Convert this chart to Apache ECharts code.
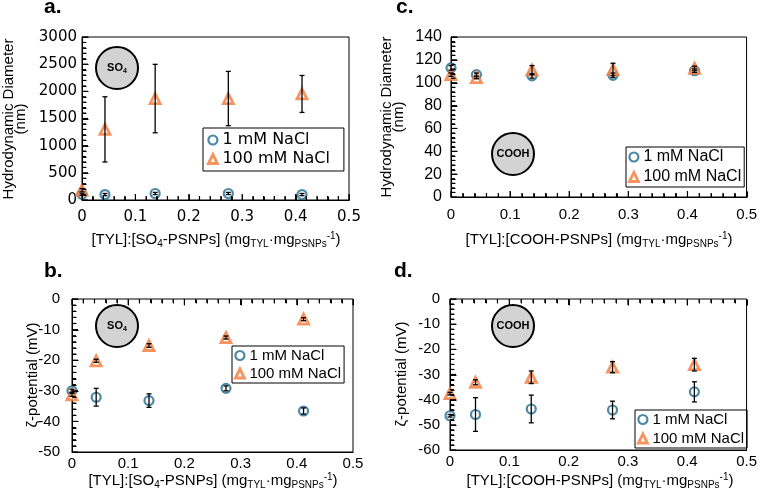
<!DOCTYPE html>
<html>
<head>
<meta charset="utf-8">
<script src="https://cdn.jsdelivr.net/npm/echarts@6/dist/echarts.min.js"></script>
<style>
  html, body { margin: 0; background: #fff; }
  #chart { width: 760px; height: 496px; }
</style>
</head>
<body>
<div id="chart"></div>
<script>
// TYL : PSNPs mass ratio (x)
const ratio = [0, 0.043, 0.137, 0.274, 0.412];
const xTicks = [0, 0.1, 0.2, 0.3, 0.4, 0.5];

// a. SO4-PSNPs hydrodynamic diameter (nm)
const so4Size1 = [105, 100, 120, 120, 100];
const so4Size1Err = [20, 20, 20, 20, 20];
const so4Size100 = [180, 1300, 1867, 1867, 1952];
const so4Size100Err = [30, 600, 630, 500, 340];
const so4SizeTicks = [0, 500, 1000, 1500, 2000, 2500, 3000];

// c. COOH-PSNPs hydrodynamic diameter (nm)
const coohSize1 = [113, 107, 106, 106.5, 110.5];
const coohSize1Err = [2, 1.5, 2, 2, 1.5];
const coohSize100 = [107, 104.5, 111, 111.5, 112.5];
const coohSize100Err = [1.5, 1, 4, 5.5, 2];
const coohSizeTicks = [0, 20, 40, 60, 80, 100, 120, 140];

// b. SO4-PSNPs zeta potential (mV)
const so4Zeta1 = [-30, -32.1, -33.2, -29.2, -36.6];
const so4Zeta1Err = [0.5, 2.9, 2.2, 0.8, 1];
const so4Zeta100 = [-31.3, -20.2, -15.2, -12.6, -6.6];
const so4Zeta100Err = [0.5, 0.5, 0.6, 0.5, 0.5];
const so4ZetaTicks = [-50, -40, -30, -20, -10, 0];

// d. COOH-PSNPs zeta potential (mV)
const coohZeta1 = [-46.4, -45.9, -43.7, -44.1, -36.9];
const coohZeta1Err = [0.5, 6.7, 5.5, 3.5, 4];
const coohZeta100 = [-37.6, -33.1, -31.1, -27.1, -26.1];
const coohZeta100Err = [0.5, 1, 2.5, 2.2, 2.5];
const coohZetaTicks = [-60, -50, -40, -30, -20, -10, 0];

const seriesNames = ['1 mM NaCl', '100 mM NaCl'];

const FONT = 'Liberation Sans, Arial, sans-serif';
const WIDE = 'DejaVu Sans, Verdana, sans-serif';
const BLUE = '#1f6b8e';
const ORANGE = '#f2783a';

const chart = echarts.init(document.getElementById('chart'));

const grids = [
  {left: 82, top: 37, width: 267, height: 163},   // a
  {left: 451, top: 37, width: 296, height: 160},  // c
  {left: 72, top: 299, width: 281, height: 153},  // b
  {left: 450, top: 299, width: 300, height: 151}  // d
].map(g => Object.assign(g, {show: true, borderColor: '#000', borderWidth: 1}));

function step(t) { return t[1] - t[0]; }
function first(t) { return t[0]; }
function last(t) { return t[t.length - 1]; }

function xAxis(gi, margin, font) {
  return {
    type: 'value', gridIndex: gi, position: 'bottom',
    min: first(xTicks), max: last(xTicks), interval: step(xTicks),
    axisLine: {show: true, onZero: false, lineStyle: {color: '#000', width: 1}},
    axisTick: {show: false},
    splitLine: {show: false},
    axisLabel: {margin: margin, color: '#000', fontSize: 15, fontFamily: font, formatter: v => String(v)}
  };
}
function yAxis(gi, ticks, margin, font, size) {
  return {
    type: 'value', gridIndex: gi, position: 'left',
    min: first(ticks), max: last(ticks), interval: step(ticks),
    axisLine: {show: true, onZero: false, lineStyle: {color: '#000', width: 1}},
    axisTick: {show: false},
    splitLine: {show: false},
    axisLabel: {margin: margin, color: '#000', fontSize: size, fontFamily: font, formatter: v => String(v)}
  };
}

// major ticks plus 4 minor ticks in each interval: [value, isMajor]
function tickValues(ticks) {
  const out = [];
  ticks.forEach((t, i) => {
    out.push([t, 1]);
    if (i < ticks.length - 1) {
      const d = (ticks[i + 1] - t) / 5;
      for (let k = 1; k < 5; k++) out.push([t + k * d, 0]);
    }
  });
  return out;
}

// tick definitions per panel: which axis, which edge value, which direction
const tickSets = [
  {gi: 0, along: 'x', ticks: xTicks, edge: first(so4SizeTicks), dir: -1},
  {gi: 1, along: 'x', ticks: xTicks, edge: first(coohSizeTicks), dir: -1},
  {gi: 2, along: 'x', ticks: xTicks, edge: last(so4ZetaTicks), dir: 1},
  {gi: 3, along: 'x', ticks: xTicks, edge: last(coohZetaTicks), dir: 1},
  {gi: 0, along: 'y', ticks: so4SizeTicks, edge: first(xTicks), dir: 1},
  {gi: 1, along: 'y', ticks: coohSizeTicks, edge: first(xTicks), dir: 1},
  {gi: 2, along: 'y', ticks: so4ZetaTicks, edge: first(xTicks), dir: 1},
  {gi: 3, along: 'y', ticks: coohZetaTicks, edge: first(xTicks), dir: 1}
];

function tickData(s) {
  return tickValues(s.ticks).map(([v, major]) =>
    s.along === 'x' ? [v, s.edge, major] : [s.edge, v, major]);
}

// inward-pointing ticks, placed through the axes' own scales
function tickSeries(s) {
  return {
    type: 'custom', xAxisIndex: s.gi, yAxisIndex: s.gi, z: 5, clip: false,
    encode: {x: 0, y: 1},
    data: tickData(s),
    renderItem: function (params, api) {
      const p = api.coord([api.value(0), api.value(1)]);
      const len = api.value(2) ? 6 : 4;
      const shape = s.along === 'x'
        ? {x1: p[0], y1: p[1], x2: p[0], y2: p[1] + s.dir * len}
        : {x1: p[0], y1: p[1], x2: p[0] + s.dir * len, y2: p[1]};
      return {type: 'line', shape: shape, style: {stroke: '#000', lineWidth: 1.2}};
    }
  };
}

function pts(ys) { return ratio.map((x, i) => [x, ys[i]]); }
function bars(ys, es) { return ratio.map((x, i) => [x, ys[i], es[i]]); }

function errorBar(params, api) {
  const x = api.value(0), y = api.value(1), e = api.value(2);
  const hi = api.coord([x, y + e]);
  const lo = api.coord([x, y - e]);
  const w = 2.5;
  const st = {stroke: '#000', lineWidth: 1.3};
  return {
    type: 'group',
    children: [
      {type: 'line', shape: {x1: hi[0], y1: hi[1], x2: lo[0], y2: lo[1]}, style: st},
      {type: 'line', shape: {x1: hi[0] - w, y1: hi[1], x2: hi[0] + w, y2: hi[1]}, style: st},
      {type: 'line', shape: {x1: lo[0] - w, y1: lo[1], x2: lo[0] + w, y2: lo[1]}, style: st}
    ]
  };
}

function panelSeries(ai, v1, e1, v100, e100) {
  return [
    {
      name: seriesNames[0], type: 'scatter', xAxisIndex: ai, yAxisIndex: ai,
      symbol: 'circle', symbolSize: 9, clip: false, z: 2,
      itemStyle: {color: '#fff', borderColor: BLUE, borderWidth: 2.2},
      data: pts(v1)
    },
    {
      name: seriesNames[1], type: 'scatter', xAxisIndex: ai, yAxisIndex: ai,
      symbol: 'triangle', symbolSize: 10, clip: false, z: 3,
      itemStyle: {color: '#fff', borderColor: ORANGE, borderWidth: 2.8},
      data: pts(v100)
    },
    {
      type: 'custom', xAxisIndex: ai, yAxisIndex: ai, z: 4, clip: false,
      renderItem: errorBar, encode: {x: 0, y: 1}, data: bars(v1, e1)
    },
    {
      type: 'custom', xAxisIndex: ai, yAxisIndex: ai, z: 4, clip: false,
      renderItem: errorBar, encode: {x: 0, y: 1}, data: bars(v100, e100)
    }
  ];
}

function legend(left, top, font, size, gap, padding) {
  return {
    left: left, top: top, orient: 'vertical', selectedMode: false,
    borderColor: '#000', borderWidth: 1, borderRadius: 0,
    padding: padding, itemGap: gap, itemWidth: 9, itemHeight: 9,
    textStyle: {color: '#000', fontSize: size, fontFamily: font},
    data: [
      {name: seriesNames[0], icon: 'circle', itemStyle: {color: '#fff', borderColor: BLUE, borderWidth: 2.2}},
      {name: seriesNames[1], icon: 'triangle', itemStyle: {color: '#fff', borderColor: ORANGE, borderWidth: 2.8}}
    ]
  };
}

const subRich = {
  s: {fontSize: 10, fontFamily: FONT, fill: '#000', lineHeight: 11, padding: [8, 0, 0, 0]},
  p: {fontSize: 10, fontFamily: FONT, fill: '#000', lineHeight: 11, padding: [0, 0, 8, 0]}
};
function xTitle(cx, cy, label) {
  return {
    type: 'text', x: cx, y: cy,
    style: {
      text: label, fontSize: 15, fontFamily: FONT, fill: '#000',
      align: 'center', verticalAlign: 'middle', rich: subRich
    }
  };
}
function yTitle(cx, cy, label) {
  return {
    type: 'text', x: cx, y: cy, rotation: Math.PI / 2,
    style: {text: label, fontSize: 15, fontFamily: FONT, fill: '#000', align: 'center', verticalAlign: 'middle'}
  };
}
function badge(cx, cy, label) {
  return {
    type: 'group',
    children: [
      {type: 'circle', shape: {cx: cx, cy: cy, r: 21}, style: {fill: '#d3d3d3', stroke: '#000', lineWidth: 2}},
      {
        type: 'text', x: cx, y: cy,
        style: {
          text: label, fontSize: 11, fontWeight: 'bold', fontFamily: FONT, fill: '#000',
          align: 'center', verticalAlign: 'middle',
          rich: {s: {fontSize: 7, fontWeight: 'bold', fontFamily: FONT, fill: '#000', lineHeight: 8, padding: [6, 0, 0, 0]}}
        }
      }
    ]
  };
}
function letter(x, y, label) {
  return {
    type: 'text', x: x, y: y,
    style: {text: label, fontSize: 21, fontWeight: 'bold', fontFamily: FONT, fill: '#000', align: 'left', verticalAlign: 'middle'}
  };
}

const so4Label = '[TYL]:[SO{s|4}-PSNPs] (mg{s|TYL}·mg{s|PSNPs}{p|-1})';
const coohLabel = '[TYL]:[COOH-PSNPs] (mg{s|TYL}·mg{s|PSNPs}{p|-1})';

const decorations = [
  letter(44, 7, 'a.'), letter(396, 7, 'c.'), letter(44, 271, 'b.'), letter(394, 271, 'd.'),
  badge(117, 68, 'SO{s|4}'), badge(513, 154, 'COOH'), badge(117, 326, 'SO{s|4}'), badge(513, 326, 'COOH'),
  yTitle(9, 119, 'Hydrodynamic Diameter'), yTitle(21, 119, '(nm)'),
  yTitle(387, 117, 'Hydrodynamic Diameter'), yTitle(399, 117, '(nm)'),
  yTitle(33, 375, 'ζ-potential (mV)'), yTitle(402, 374, 'ζ-potential (mV)'),
  xTitle(216, 240, so4Label), xTitle(599, 240, coohLabel),
  xTitle(213, 481, so4Label), xTitle(600, 481, coohLabel)
];

const option = {
  animation: false,
  backgroundColor: '#fff',
  grid: grids,
  xAxis: [
    xAxis(0, 10, WIDE),
    xAxis(1, 10, FONT),
    xAxis(2, 4, FONT),
    xAxis(3, 4, FONT)
  ],
  yAxis: [
    yAxis(0, so4SizeTicks, 5, WIDE, 15),
    yAxis(1, coohSizeTicks, 9, FONT, 16),
    yAxis(2, so4ZetaTicks, 12, FONT, 15),
    yAxis(3, coohZetaTicks, 10, FONT, 15)
  ],
  legend: [
    legend(203, 128, WIDE, 16, 3, [4, 14, 4, 4]),
    legend(626, 147, FONT, 16, 4, [2, 3, 2, 2]),
    legend(232, 346, FONT, 15, 3, [2, 3, 2, 2]),
    legend(635, 410, FONT, 15, 4, [2, 3, 2, 2])
  ],
  series: [].concat(
    panelSeries(0, so4Size1, so4Size1Err, so4Size100, so4Size100Err),
    panelSeries(1, coohSize1, coohSize1Err, coohSize100, coohSize100Err),
    panelSeries(2, so4Zeta1, so4Zeta1Err, so4Zeta100, so4Zeta100Err),
    panelSeries(3, coohZeta1, coohZeta1Err, coohZeta100, coohZeta100Err),
    tickSets.map(tickSeries)
  ),
  graphic: decorations
};

chart.setOption(option);

// second pass: tick marks as graphic lines, positioned with the chart's own axis scales
const tickLines = [];
tickSets.forEach(s => {
  tickData(s).forEach(d => {
    const p = chart.convertToPixel({gridIndex: s.gi}, [d[0], d[1]]);
    if (!p) return;
    const len = d[2] ? 6 : 4;
    const x = Math.round(p[0]) + 0.5, y = Math.round(p[1]) + 0.5;
    tickLines.push({
      type: 'line', z: 100, silent: true,
      shape: s.along === 'x'
        ? {x1: x, y1: y, x2: x, y2: y + s.dir * len}
        : {x1: x, y1: y, x2: x + s.dir * len, y2: y},
      style: {stroke: '#000', lineWidth: 1}
    });
  });
});
chart.setOption({graphic: decorations.concat(tickLines)});
</script>
</body>
</html>
